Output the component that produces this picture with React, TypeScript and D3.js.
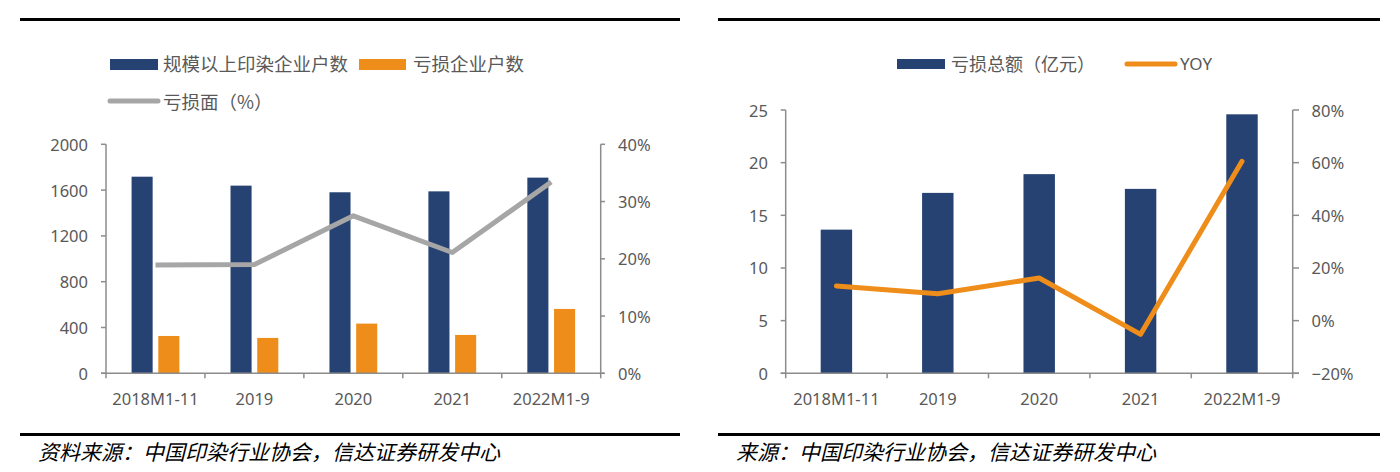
import React from "react";
import * as d3 from "d3";

const categories = ["2018M1-11", "2019", "2020", "2021", "2022M1-9"];
// Left chart
const scaleEnterprises = [1717, 1639, 1581, 1589, 1709];
const lossEnterprises = [326, 309, 434, 335, 562];
const lossRatio = [0.189, 0.19, 0.275, 0.211, 0.334];
const leftTicks = [0, 400, 800, 1200, 1600, 2000];
const leftPctTicks = [0, 0.1, 0.2, 0.3, 0.4];
// Right chart
const lossTotal = [13.64, 17.13, 18.91, 17.51, 24.59];
const yoy = [0.132, 0.102, 0.162, -0.052, 0.605];
const rightTicks = [0, 5, 10, 15, 20, 25];
const rightPctTicks = [-0.2, 0, 0.2, 0.4, 0.6, 0.8];

const BLUE = "#264272";
const ORANGE = "#EE8D1A";
const GRAY = "#A6A6A6";
const AXIS = "#8C8C8C";
const TXT = "#595959";
const NUM_FONT = "'Noto Sans', 'Noto Sans CJK SC', sans-serif";
const CJK_FONT = "'Noto Sans CJK SC', 'Noto Sans', sans-serif";

const pct = d3.format(".0%");

function LeftChart() {
  const x = d3.scaleBand<string>().domain(categories).range([106, 600.7]);
  const y = d3.scaleLinear().domain([0, 2000]).range([373.3, 144.3]);
  const y2 = d3.scaleLinear().domain([0, 0.4]).range([373.3, 144.3]);
  const bw = x.bandwidth();
  const barW = bw * 0.213;
  const gap = bw * 0.057;
  const line = d3
    .line<number>()
    .x((_, i) => (x(categories[i]) as number) + bw / 2)
    .y((d) => y2(d));
  return (
    <g>
      <rect x={20} y={18} width={660} height={3} fill="#000" />
      {/* legend */}
      <rect x={110} y={59} width={48} height={11} fill={BLUE} />
      <text x={163} y={63} fontSize={18.5} fill={TXT} fontFamily={CJK_FONT} dominantBaseline="central">规模以上印染企业户数</text>
      <rect x={359} y={59} width={47} height={11} fill={ORANGE} />
      <text x={413} y={63} fontSize={18.5} fill={TXT} fontFamily={CJK_FONT} dominantBaseline="central">亏损企业户数</text>
      <line x1={110} x2={158} y1={101} y2={101} stroke={GRAY} strokeWidth={5} strokeLinecap="round" />
      <text x={163} y={101} fontSize={18.5} fill={TXT} fontFamily={CJK_FONT} dominantBaseline="central">亏损面（%）</text>
      {/* bars */}
      {categories.map((c, i) => {
        const cx = (x(c) as number) + bw / 2;
        return (
          <g key={c}>
            <rect x={cx - gap / 2 - barW} y={y(scaleEnterprises[i])} width={barW} height={y(0) - y(scaleEnterprises[i])} fill={BLUE} />
            <rect x={cx + gap / 2} y={y(lossEnterprises[i])} width={barW} height={y(0) - y(lossEnterprises[i])} fill={ORANGE} />
          </g>
        );
      })}
      <path d={line(lossRatio) as string} fill="none" stroke={GRAY} strokeWidth={5} strokeLinejoin="round" />
      {/* axes */}
      <g stroke={AXIS} strokeWidth={1.5} fill="none">
        <line x1={106} x2={106} y1={y(2000)} y2={y(0)} />
        <line x1={600.7} x2={600.7} y1={y(2000)} y2={y(0)} />
        <line x1={101} x2={604} y1={y(0)} y2={y(0)} />
        {leftTicks.map((t) => (
          <line key={"lt" + t} x1={101} x2={106} y1={y(t)} y2={y(t)} />
        ))}
        {leftPctTicks.map((t) => (
          <line key={"rt" + t} x1={600.7} x2={605} y1={y2(t)} y2={y2(t)} />
        ))}
        {categories.map((c) => (
          <line key={"xt" + c} x1={x(c) as number} x2={x(c) as number} y1={y(0)} y2={y(0) + 5} />
        ))}
        <line x1={600.7} x2={600.7} y1={y(0)} y2={y(0) + 5} />
      </g>
      {leftTicks.map((t) => (
        <text key={"ll" + t} x={88} y={y(t)} textAnchor="end" dominantBaseline="central" fontSize={16.5} fill={TXT} fontFamily={NUM_FONT}>{t}</text>
      ))}
      {leftPctTicks.map((t) => (
        <text key={"rl" + t} x={618} y={y2(t)} dominantBaseline="central" fontSize={16.5} fill={TXT} fontFamily={NUM_FONT}>{pct(t)}</text>
      ))}
      {categories.map((c) => (
        <text key={"xl" + c} x={(x(c) as number) + bw / 2} y={398} textAnchor="middle" dominantBaseline="central" fontSize={16.5} fill={TXT} fontFamily={NUM_FONT}>{c}</text>
      ))}
      <rect x={20} y={433} width={660} height={3} fill="#000" />
      <text x={38} y={451} fontSize={21} fontStyle="italic" fill="#000" fontFamily={CJK_FONT} dominantBaseline="central">资料来源：中国印染行业协会，信达证券研发中心</text>
    </g>
  );
}

function RightChart() {
  const x = d3.scaleBand<string>().domain(categories).range([785.7, 1292.7]);
  const y = d3.scaleLinear().domain([0, 25]).range([373.3, 110]);
  const y2 = d3.scaleLinear().domain([-0.2, 0.8]).range([373.3, 110]);
  const bw = x.bandwidth();
  const barW = bw * 0.31;
  const line = d3
    .line<number>()
    .x((_, i) => (x(categories[i]) as number) + bw / 2)
    .y((d) => y2(d));
  return (
    <g>
      <rect x={718} y={18} width={662} height={3} fill="#000" />
      <rect x={897} y={59} width={48} height={10} fill={BLUE} />
      <text x={951} y={63} fontSize={18} fill={TXT} fontFamily={CJK_FONT} dominantBaseline="central">亏损总额（亿元）</text>
      <line x1={1127} x2={1175} y1={64} y2={64} stroke={ORANGE} strokeWidth={5} strokeLinecap="round" />
      <text x={1180} y={63} fontSize={17} fill={TXT} fontFamily={NUM_FONT} dominantBaseline="central">YOY</text>
      {categories.map((c, i) => {
        const cx = (x(c) as number) + bw / 2;
        return <rect key={c} x={cx - barW / 2} y={y(lossTotal[i])} width={barW} height={y(0) - y(lossTotal[i])} fill={BLUE} />;
      })}
      <path d={line(yoy) as string} fill="none" stroke={ORANGE} strokeWidth={5} strokeLinejoin="round" strokeLinecap="round" />
      <g stroke={AXIS} strokeWidth={1.5} fill="none">
        <line x1={785.7} x2={785.7} y1={y(25)} y2={y(0)} />
        <line x1={1292.7} x2={1292.7} y1={y(25)} y2={y(0)} />
        <line x1={780.7} x2={1299} y1={y(0)} y2={y(0)} />
        {rightTicks.map((t) => (
          <line key={"lt" + t} x1={780.7} x2={785.7} y1={y(t)} y2={y(t)} />
        ))}
        {rightPctTicks.map((t) => (
          <line key={"rt" + t} x1={1292.7} x2={1299} y1={y2(t)} y2={y2(t)} />
        ))}
        {categories.map((c) => (
          <line key={"xt" + c} x1={x(c) as number} x2={x(c) as number} y1={y(0)} y2={y(0) + 5} />
        ))}
        <line x1={1292.7} x2={1292.7} y1={y(0)} y2={y(0) + 5} />
      </g>
      {rightTicks.map((t) => (
        <text key={"ll" + t} x={768} y={y(t)} textAnchor="end" dominantBaseline="central" fontSize={16.5} fill={TXT} fontFamily={NUM_FONT}>{t}</text>
      ))}
      {rightPctTicks.map((t) => (
        <text key={"rl" + t} x={1311.5} y={y2(t)} dominantBaseline="central" fontSize={16.5} fill={TXT} fontFamily={NUM_FONT}>{pct(t)}</text>
      ))}
      {categories.map((c) => (
        <text key={"xl" + c} x={(x(c) as number) + bw / 2} y={398} textAnchor="middle" dominantBaseline="central" fontSize={16.5} fill={TXT} fontFamily={NUM_FONT}>{c}</text>
      ))}
      <rect x={718} y={433} width={662} height={3} fill="#000" />
      <text x={736} y={451} fontSize={21} fontStyle="italic" fill="#000" fontFamily={CJK_FONT} dominantBaseline="central">来源：中国印染行业协会，信达证券研发中心</text>
    </g>
  );
}

export default function App() {
  return (
    <svg width={1400} height={472} style={{ position: "absolute", left: 0, top: 0, background: "#fff" }}>
      <rect width={1400} height={472} fill="#fff" />
      <LeftChart />
      <RightChart />
    </svg>
  );
}
